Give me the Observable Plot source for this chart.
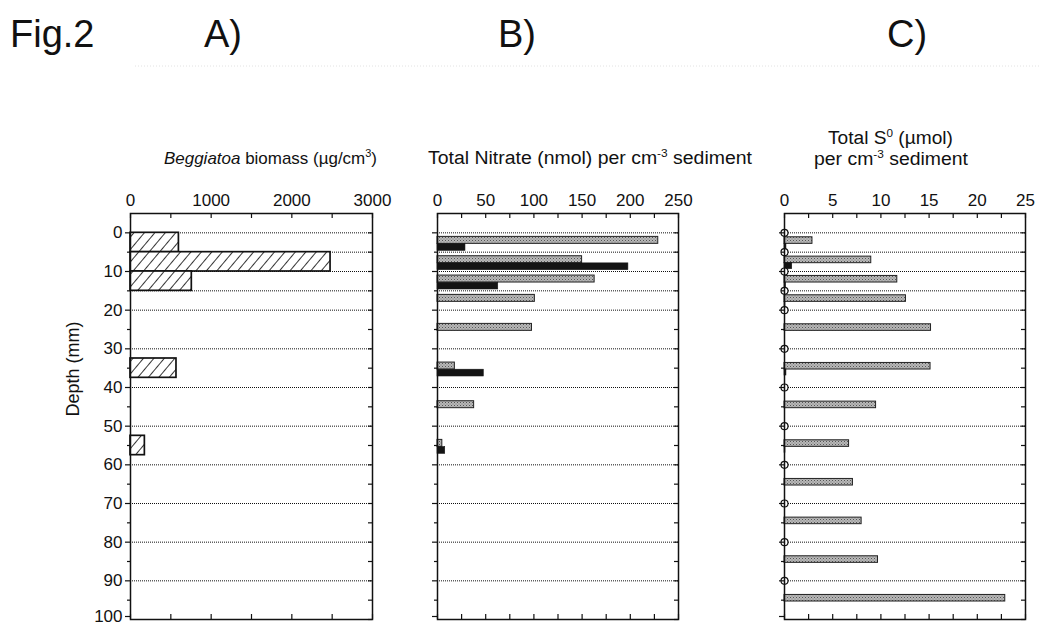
<!DOCTYPE html>
<html>
<head>
<meta charset="utf-8">
<script src="https://cdn.jsdelivr.net/npm/d3@7"></script>
<script src="https://cdn.jsdelivr.net/npm/@observablehq/plot@0.6"></script>
<style>
  html, body { margin: 0; padding: 0; background: #fff; }
  #wrap { position: relative; width: 1039px; height: 625px; overflow: hidden; background: #fff;
          font-family: Arial, "Liberation Sans", sans-serif; }
  .panel { position: absolute; top: 180px; }
  #labels { position: absolute; left: 0; top: 0; pointer-events: none; }
</style>
</head>
<body>
<div id="wrap">
  <svg id="labels" width="1039" height="180" font-family="Arial, 'Liberation Sans', sans-serif" fill="#111">
    <text x="10" y="47" font-size="38">Fig.2</text>
    <text x="204" y="47" font-size="38">A)</text>
    <text x="498" y="47" font-size="38">B)</text>
    <text x="887" y="47" font-size="38">C)</text>
    <line x1="135" x2="1039" y1="66" y2="66" stroke="#e2e2e2" stroke-dasharray="1,2"/>
    <text x="164" y="164" font-size="17" textLength="213" lengthAdjust="spacingAndGlyphs"><tspan font-style="italic">Beggiatoa</tspan> biomass (µg/cm<tspan font-size="11" dy="-7">3</tspan><tspan dy="7">)</tspan></text>
    <text x="428" y="164" font-size="18" textLength="324" lengthAdjust="spacingAndGlyphs">Total Nitrate (nmol) per cm<tspan font-size="11" dy="-7">-3</tspan><tspan dy="7"> sediment</tspan></text>
    <text x="828" y="144" font-size="18" textLength="125" lengthAdjust="spacingAndGlyphs">Total S<tspan font-size="11" dy="-7">0</tspan><tspan dy="7"> (µmol)</tspan></text>
    <text x="814" y="165" font-size="18" textLength="154" lengthAdjust="spacingAndGlyphs">per cm<tspan font-size="11" dy="-7">-3</tspan><tspan dy="7"> sediment</tspan></text>
  </svg>
</div>
<script>
// ---------- data ----------
const gridDepths = [0, 5, 10, 15, 20, 30, 40, 50, 60, 70, 80, 90];
const depthTicks = [0, 10, 20, 30, 40, 50, 60, 70, 80, 90, 100];
const depthMinorTicks = [5, 15, 25, 35, 45, 55, 65, 75, 85, 95];

// Panel A: Beggiatoa biomass (µg/cm3)
const biomassTop = [0, 5, 10, 32.5, 52.5];
const biomassBottom = [5, 10, 15, 37.5, 57.5];
const biomassValue = [600, 2480, 760, 570, 178];
const biomassTicks = [0, 1000, 2000, 3000];
const biomassMinor = [500, 1500, 2500];

// Panel B: Total nitrate (nmol per cm-3 sediment)
const sliceCenter = [2.5, 7.5, 12.5, 17.5, 25, 35, 45, 55, 65, 75, 85, 95];
const nitrateGray = [229, 150, 163, 101, 98, 18, 38, 5, 0, 0, 0, 0];
const nitrateBlack = [29, 198, 63, 0, 0, 48, 0, 8, 0, 0, 0, 0];
const nitrateTicks = [0, 50, 100, 150, 200, 250];
const nitrateMinor = [25, 75, 125, 175, 225];

// Panel C: Total S0 (µmol per cm-3 sediment)
const s0Gray = [2.9, 9.0, 11.7, 12.6, 15.2, 15.15, 9.5, 6.7, 7.1, 8.0, 9.7, 22.9];
const s0Black = [0.2, 0.8, 0.15, 0.1, 0, 0.2, 0, 0.1, 0, 0, 0, 0];
const s0CircleDepth = [0, 5, 10, 15, 20, 30, 40, 50, 60, 70, 80, 90];
const s0CircleValue = [0, 0, 0, 0, 0, 0, 0, 0, 0, 0, 0, 0];
const s0Ticks = [0, 5, 10, 15, 20, 25];
const s0Minor = [2.5, 7.5, 12.5, 17.5, 22.5];

// ---------- tables ----------
const biomass = biomassValue.map((v, i) => ({top: biomassTop[i], bottom: biomassBottom[i], v}));
const nitrate = sliceCenter.map((c, i) => ({c, g: nitrateGray[i], b: nitrateBlack[i]}));
const s0 = sliceCenter.map((c, i) => ({c, g: s0Gray[i], b: s0Black[i]}));
const circles = s0CircleDepth.map((d, i) => ({d, v: s0CircleValue[i]}));

// ---------- layout ----------
const H = 445, MT = 33, MB = 6, FH = H - MT - MB;
const font = "Arial, 'Liberation Sans', sans-serif";

function panel({width, marginLeft, marginRight, xDomain, xTicks, xMinor, showY, marks, defs}) {
  const FW = width - marginLeft - marginRight;
  const allX = xTicks.concat(xMinor);
  const allY = depthTicks.concat(depthMinorTicks);
  const yLabelTicks = depthTicks.slice(0, -1);
  const lastTick = depthTicks.slice(-1);
  const p = Plot.plot({
    width, height: H, marginTop: MT, marginBottom: MB, marginLeft, marginRight,
    style: {fontFamily: font, fontSize: "17px", color: "#111", background: "transparent", overflow: "visible"},
    x: {domain: xDomain},
    y: {domain: [-5, 100], reverse: true},
    marks: [
      Plot.ruleY(gridDepths, {stroke: "#111", strokeWidth: 1, strokeDasharray: "1,1"}),
      ...marks,
      Plot.axisX({anchor: "top", ticks: xTicks, tickSize: 0, tickPadding: 8, label: null, tickFormat: d => String(d)}),
      Plot.ruleX(allX, {insetBottom: FH - 5, stroke: "#111", strokeWidth: 1.2}),
      Plot.ruleX(allX, {insetTop: FH - 5, stroke: "#111", strokeWidth: 1.2}),
      Plot.axisY({anchor: "left", ticks: yLabelTicks, tickSize: 5, tickPadding: 3, label: null,
                  tickFormat: showY ? (d => String(d)) : (() => ""), strokeWidth: 1.2}),
      Plot.axisY({anchor: "left", ticks: lastTick, tickSize: 5, tickPadding: 3, label: null, dy: -3,
                  tickFormat: showY ? (d => String(d)) : (() => ""), strokeWidth: 1.2}),
      Plot.axisY({anchor: "left", ticks: depthMinorTicks, tickSize: 3, label: null, tickFormat: () => "", strokeWidth: 1.2}),
      Plot.ruleY(allY, {insetLeft: FW - 4, stroke: "#111", strokeWidth: 1.2}),
      Plot.frame({stroke: "#111", strokeWidth: 1.5})
    ]
  });
  p.insertAdjacentHTML("afterbegin", `<defs>${defs}</defs>`);
  return p;
}

const stipple = (id) => `<pattern id="${id}" width="3" height="3" patternUnits="userSpaceOnUse">
  <rect width="3" height="3" fill="#b8b8b8"/>
  <rect x="0" y="0" width="1" height="1" fill="#555"/>
  <rect x="1.5" y="1.5" width="1" height="1" fill="#777"/>
</pattern>`;

const hatch = `<pattern id="hatchA" width="8" height="8" patternUnits="userSpaceOnUse" patternTransform="rotate(40)">
  <rect width="8" height="8" fill="#fff"/>
  <line x1="0" y1="0" x2="0" y2="8" stroke="#111" stroke-width="1.7"/>
</pattern>`;

// Panel A
const pA = panel({
  width: 400, marginLeft: 130, marginRight: 28,
  xDomain: [0, 3000], xTicks: biomassTicks, xMinor: biomassMinor, showY: true,
  defs: hatch,
  marks: [
    Plot.rect(biomass, {x1: 0, x2: "v", y1: "top", y2: "bottom", fill: "url(#hatchA)", stroke: "#111", strokeWidth: 1.7}),
    Plot.text(["Depth (mm)"], {frameAnchor: "left", dx: -57, rotate: -90, fontSize: 18, fill: "#111"})
  ]
});
pA.classList.add("panel"); pA.style.left = "0px";

// Panel B
const pB = panel({
  width: 300, marginLeft: 37, marginRight: 22,
  xDomain: [0, 250], xTicks: nitrateTicks, xMinor: nitrateMinor, showY: false,
  defs: stipple("stippleB"),
  marks: [
    Plot.rect(nitrate.filter(d => d.g > 0), {x1: 0, x2: "g", y1: d => d.c - 1.45, y2: d => d.c + 0.35,
      fill: "url(#stippleB)", stroke: "#222", strokeWidth: 1}),
    Plot.rect(nitrate.filter(d => d.b > 0), {x1: 0, x2: "b", y1: d => d.c + 0.4, y2: d => d.c + 2.15,
      fill: "#141414", stroke: "#141414", strokeWidth: 0.6})
  ]
});
pB.classList.add("panel"); pB.style.left = "400px";

// Panel C
const pC = panel({
  width: 339, marginLeft: 84, marginRight: 14,
  xDomain: [0, 25], xTicks: s0Ticks, xMinor: s0Minor, showY: false,
  defs: stipple("stippleC"),
  marks: [
    Plot.rect(s0.filter(d => d.g > 0), {x1: 0, x2: "g", y1: d => d.c - 1.35, y2: d => d.c + 0.35,
      fill: "url(#stippleC)", stroke: "#222", strokeWidth: 1}),
    Plot.rect(s0.filter(d => d.b > 0), {x1: 0, x2: "b", y1: d => d.c + 0.35, y2: d => d.c + 1.9,
      fill: "#141414", stroke: "#141414", strokeWidth: 0.6}),
    Plot.dot(circles, {x: "v", y: "d", r: 3.5, fill: "#fff", stroke: "#111", strokeWidth: 1.2})
  ]
});
pC.classList.add("panel"); pC.style.left = "700px";

const wrap = document.getElementById("wrap");
wrap.appendChild(pA);
wrap.appendChild(pB);
wrap.appendChild(pC);
</script>
</body>
</html>
